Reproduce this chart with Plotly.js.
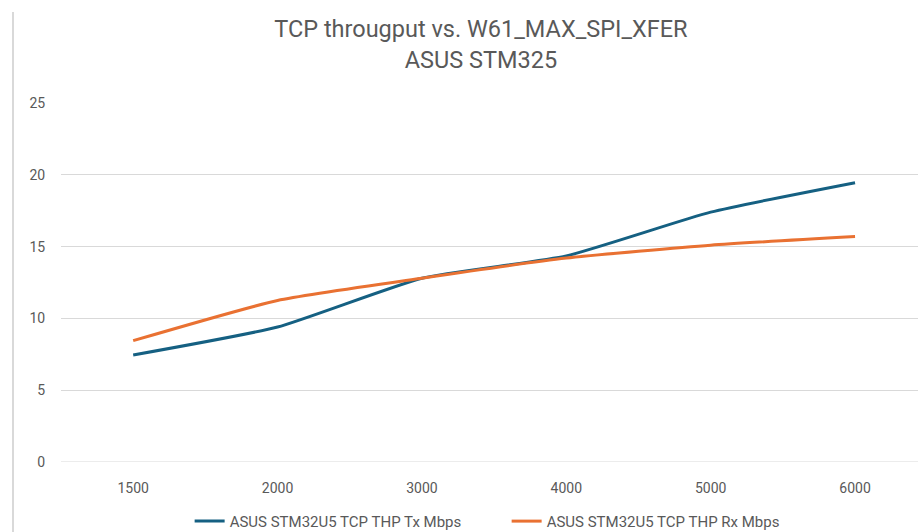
<!DOCTYPE html>
<html>
<head>
<meta charset="utf-8">
<script src="https://cdn.plot.ly/plotly-3.0.1.min.js"></script>
<style>html,body{margin:0;padding:0;background:#fff;}#chart{width:918px;height:532px;}</style>
</head>
<body>
<div id="chart"></div>
<script>
const categories = ["1500", "2000", "3000", "4000", "5000", "6000"];
const txMbps = [7.45, 9.4, 12.8, 14.35, 17.4, 19.45];
const rxMbps = [8.45, 11.25, 12.8, 14.2, 15.1, 15.7];
const yTicks = [0, 5, 10, 15, 20, 25];
const seriesNames = ["ASUS STM32U5 TCP THP Tx Mbps", "ASUS STM32U5 TCP THP Rx Mbps"];
const titleLines = ["TCP througput vs. W61_MAX_SPI_XFER", "ASUS STM325"];

const FONT = "Roboto, 'Liberation Sans', sans-serif";

const traces = [
  {x: categories, y: txMbps, name: seriesNames[0], type: 'scatter', mode: 'lines',
   line: {color: '#156082', width: 3, shape: 'spline', smoothing: 0.5}},
  {x: categories, y: rxMbps, name: seriesNames[1], type: 'scatter', mode: 'lines',
   line: {color: '#E97132', width: 3, shape: 'spline', smoothing: 0.5}}
];

const layout = {
  width: 918, height: 532,
  margin: {l: 61, r: 0, t: 103, b: 70},
  paper_bgcolor: '#ffffff', plot_bgcolor: '#ffffff',
  font: {family: FONT, color: '#595959', size: 14},
  title: {text: titleLines.join('<br>'), x: 0.49, xref: 'paper', xanchor: 'center',
          y: 0.93, yref: 'container', yanchor: 'top',
          font: {family: FONT, size: 23.5, color: '#595959'}},
  showlegend: true,
  legend: {orientation: 'h', x: 0.52, xanchor: 'center', y: 0.02, yref: 'container', yanchor: 'middle',
           font: {family: FONT, size: 15, color: '#595959'}, traceorder: 'normal',
           entrywidth: 272, entrywidthmode: 'pixels'},
  xaxis: {type: 'category', range: [-0.5, 5.436], showgrid: false, zeroline: false,
          showline: false, ticks: 'outside', ticklen: 13, tickcolor: 'rgba(0,0,0,0)',
          tickfont: {family: FONT, size: 14, color: '#595959'}, fixedrange: true, automargin: false},
  yaxis: {range: [0, 25], tickvals: yTicks, showgrid: true, gridcolor: '#d9d9d9', gridwidth: 1,
          zeroline: false, showline: false, ticks: 'outside', ticklen: 12, tickcolor: 'rgba(0,0,0,0)',
          tickfont: {family: FONT, size: 14, color: '#595959'}, fixedrange: true, automargin: false},
  shapes: [
    {type: 'line', xref: 'paper', yref: 'paper', x0: -0.056, x1: -0.056, y0: 1.2535, y1: -0.2,
     line: {color: '#d9d9d9', width: 2}, layer: 'below'},
    {type: 'line', xref: 'paper', yref: 'y', x0: 0, x1: 1, y0: 0, y1: 0,
     line: {color: '#d9d9d9', width: 1}, layer: 'below'}
  ]
};

Plotly.newPlot('chart', traces, layout, {displayModeBar: false, staticPlot: true});
</script>
</body>
</html>
